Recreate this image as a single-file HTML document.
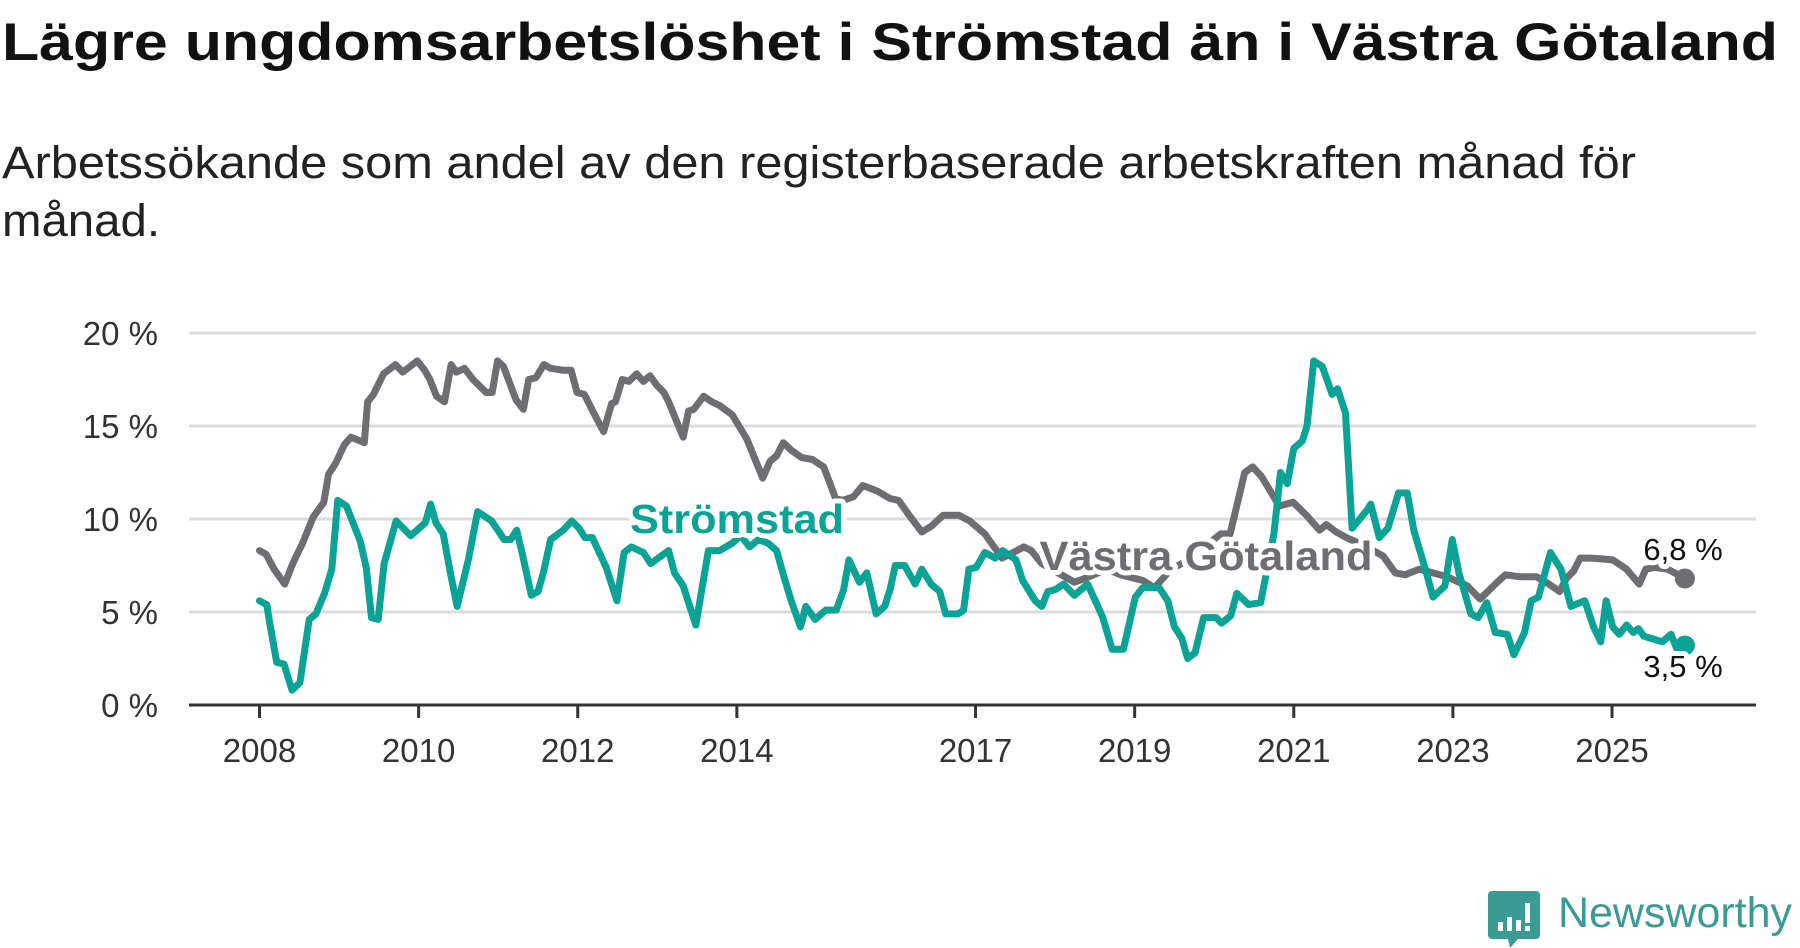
<!DOCTYPE html>
<html><head><meta charset="utf-8">
<style>
html,body{margin:0;padding:0;background:#fff;}
svg{display:block;font-family:"Liberation Sans",sans-serif;}
</style></head>
<body>
<svg id="chart" width="1800" height="948" viewBox="0 0 1800 948" xmlns="http://www.w3.org/2000/svg">
<text x="2" y="60" font-size="53" font-weight="bold" fill="#111" textLength="1776" lengthAdjust="spacingAndGlyphs">Lägre ungdomsarbetslöshet i Strömstad än i Västra Götaland</text>
<text x="2" y="178" font-size="45" fill="#222" textLength="1634" lengthAdjust="spacingAndGlyphs">Arbetssökande som andel av den registerbaserade arbetskraften månad för</text>
<text x="2" y="236" font-size="45" fill="#222" textLength="158" lengthAdjust="spacingAndGlyphs">månad.</text>
<g id="grid"></g>
<g id="xaxis"></g>
<g id="lines"></g>
<g id="labels"></g>
<g>
<path d="M1492 891 h44 a4 4 0 0 1 4 4 v40 a4 4 0 0 1 -4 4 h-18 l-8 9 l-2 -9 h-16 a4 4 0 0 1 -4 -4 v-40 a4 4 0 0 1 4 -4z" fill="#3a9a94"/>
<rect x="1498" y="922" width="5" height="9" fill="#fff"/>
<rect x="1507" y="917" width="5" height="14" fill="#fff"/>
<rect x="1516" y="920" width="5" height="11" fill="#fff"/>
<rect x="1525" y="903" width="5" height="20" fill="#fff"/>
<rect x="1525" y="926" width="5" height="5" fill="#fff"/>
<text x="1558" y="927" font-size="43" fill="#3a9a94" textLength="234" lengthAdjust="spacingAndGlyphs">Newsworthy</text>
</g>
</svg>
<script>
const grMonths=[0,1,2.2,3.8,4.9,5.4,6.5,8.1,9.7,10.4,11.5,12.8,13.8,15.8,16.3,17.2,18.7,20.5,21.6,23.8,24.9,25.7,26.7,27.9,28.9,29.7,30.9,32.2,34.2,35.1,35.9,36.8,38.7,39.8,40.6,41.7,42.9,43.9,45.7,47,47.9,49,50.4,51.9,53.1,53.7,54.7,55.7,56.9,57.9,58.9,59.9,61,61.7,63.9,64.7,65.5,67,68.2,69.4,71.3,73.5,75.9,77,78,79,80.2,81.8,83.4,85.1,86.9,88,89.6,91,93.2,95.1,96.4,98,99.9,101.3,103.1,105.5,107.1,109.4,112,113.7,115.3,116.4,118,120,122.9,124.5,127.8,129.9,133.2,135,137.5,140.1,145,146.4,148.6,149.8,151.1,152.3,153.8,155.9,157.9,159.9,160.9,162.4,163.9,166.5,169.5,171.3,172.8,174.9,177,179.1,180.9,182.2,184.1,186.4,187.9,190,192.6,194.5,196.1,197.1,198.2,199.2,201,204.1,206.2,208.1,209.1,210.4,212.4,215];
const grValues=[8.3,8.1,7.3,6.5,7.5,7.9,8.7,10.1,10.9,12.4,13.0,14.0,14.4,14.1,16.3,16.7,17.8,18.3,17.9,18.5,18.0,17.5,16.6,16.3,18.3,17.9,18.1,17.5,16.8,16.8,18.5,18.2,16.4,15.9,17.5,17.6,18.3,18.1,18.0,18.0,16.8,16.7,15.7,14.7,16.2,16.3,17.5,17.4,17.8,17.4,17.7,17.2,16.8,16.3,14.4,15.8,15.9,16.6,16.3,16.1,15.6,14.3,12.2,13.1,13.4,14.1,13.7,13.3,13.2,12.8,11.1,11.0,11.2,11.8,11.5,11.1,11.0,10.2,9.3,9.6,10.2,10.2,9.9,9.2,7.9,8.2,8.5,8.3,7.6,7.2,6.6,6.8,7.3,7.0,6.7,6.3,7.3,7.8,9.2,9.2,12.5,12.8,12.3,11.6,10.7,10.9,10.2,9.4,9.7,9.3,9.0,8.6,8.0,7.1,7.0,7.3,7.1,6.9,6.6,6.4,5.7,6.5,7.0,6.9,6.9,6.5,6.1,6.8,7.2,7.9,7.9,7.8,7.3,6.5,7.3,7.4,7.3,6.8];
const stMonths=[0,1.1,1.5,2.6,3.7,4.9,6.1,7.5,8.5,9.8,10.9,11.8,13.1,15.2,16.1,16.9,17.9,18.8,20.6,22.8,25,25.8,26.6,27.7,28.8,29.8,31.5,32.9,35,36.9,37.9,38.8,39.6,41,42,42.8,43.9,45.8,47.1,48.2,49.1,50.2,52.3,53.9,55,56.1,57.9,59,61.7,62.6,63.9,65.8,67.7,69.4,71.3,72.6,73.9,75.3,76.7,78,79.1,80.2,81.6,82.4,83.8,85.4,87,88.1,88.9,90.5,91.6,93,94.3,95.1,95.9,97.3,98.9,99.9,101.3,102.6,103.5,104.5,105.4,106.2,107,108.1,109.4,111,112.1,114.1,115.1,117,118,118.9,120,121.3,122.9,124.9,126.2,127.2,128.6,130.3,132.1,133.2,134.6,135.7,137,138,139.1,140,141.1,142.4,144.3,145.1,146.5,147.4,149.2,151,153,154,155,156,157.3,158,159,160.3,161.8,162.6,163.8,164.8,167.1,167.6,168.9,170.2,171.8,173.1,174.1,176,177,178.8,179.9,180.9,182.7,183.8,185.1,186.4,188.2,189.2,190.8,191.8,192.9,194.7,196.3,197.8,199.9,201.2,202.3,203.1,204.1,205.1,206.2,207.2,208,208.8,211.6,212.9,213.9,215];
const stValues=[5.6,5.4,4.5,2.3,2.2,0.8,1.2,4.6,4.9,6.0,7.3,11.0,10.7,8.8,7.4,4.7,4.6,7.6,9.9,9.1,9.8,10.8,9.8,9.2,7.1,5.3,7.8,10.4,9.9,8.9,8.9,9.4,8.2,5.9,6.1,7.1,8.9,9.4,9.9,9.5,9.0,9.0,7.4,5.6,8.2,8.5,8.2,7.6,8.3,7.1,6.4,4.3,8.3,8.3,8.7,9.1,8.5,8.9,8.7,8.3,6.9,5.6,4.2,5.3,4.6,5.1,5.1,6.2,7.8,6.6,7.1,4.9,5.3,6.2,7.5,7.5,6.5,7.3,6.5,6.1,4.9,4.9,4.9,5.1,7.3,7.4,8.2,7.9,8.3,7.8,6.7,5.6,5.3,6.1,6.2,6.5,5.9,6.5,5.5,4.7,3.0,3.0,5.8,6.3,6.3,6.3,5.6,4.2,3.6,2.5,2.8,4.7,4.7,4.4,4.8,6.0,5.4,5.5,9.2,12.5,11.9,13.8,14.2,15.0,18.5,18.2,16.7,17.0,15.7,9.5,10.5,10.8,9.0,9.5,11.4,11.4,9.4,7.1,5.8,6.4,8.9,7.1,4.9,4.7,5.5,3.9,3.8,2.7,3.9,5.6,5.8,8.2,7.3,5.3,5.6,4.2,3.4,5.6,4.2,3.8,4.3,3.9,4.1,3.7,3.4,3.8,2.9,3.2,3.8,3.9,3.5];
const yTicks=[0,5,10,15,20];
const yTickLabels=["0 %","5 %","10 %","15 %","20 %"];
const xTickMonths=[0,24,48,72,108,132,156,180,204];
const xTickLabels=["2008","2010","2012","2014","2017","2019","2021","2023","2025"];
const lastLabels=["6,8 %","3,5 %"];

const NS="http://www.w3.org/2000/svg";
const X0=259.5,PXM=6.63,Y0=705,PXV=18.6,LEFT=189,RIGHT=1756;
function xs(m){return X0+m*PXM;}
function ys(v){return Y0-v*PXV;}
function mk(tag,attrs,parent){const e=document.createElementNS(NS,tag);for(const k in attrs)e.setAttribute(k,attrs[k]);parent.appendChild(e);return e;}

const grid=document.getElementById('grid');
yTicks.forEach((t,i)=>{
  if(t>0){const l=mk('line',{x1:LEFT,x2:RIGHT,y1:ys(t),y2:ys(t),stroke:'#dcdcdc','stroke-width':3},grid);
  
  }
  const tx=mk('text',{x:158,y:ys(t)+12,'text-anchor':'end','font-size':33,fill:'#333'},grid);
  tx.textContent=yTickLabels[i];
  
  
});
const xa=document.getElementById('xaxis');
const axl=mk('line',{x1:LEFT,x2:RIGHT,y1:Y0,y2:Y0,stroke:'#333','stroke-width':3},xa);


xTickMonths.forEach((m,i)=>{
  const tk=mk('line',{x1:xs(m),x2:xs(m),y1:Y0,y2:Y0+13,stroke:'#333','stroke-width':3},xa);
  
  
  const tx=mk('text',{x:xs(m),y:762,'text-anchor':'middle','font-size':33,fill:'#333'},xa);
  tx.textContent=xTickLabels[i];
  
  
});
const lines=document.getElementById('lines');
function path(ms,vs){return ms.map((m,i)=>(i?'L':'M')+xs(m).toFixed(1)+' '+ys(vs[i]).toFixed(1)).join(' ');}
const gp=mk('path',{d:path(grMonths,grValues),fill:'none',stroke:'#6e6d72','stroke-width':7,'stroke-linejoin':'round','stroke-linecap':'round'},lines);


const sp=mk('path',{d:path(stMonths,stValues),fill:'none',stroke:'#0aa396','stroke-width':7,'stroke-linejoin':'round','stroke-linecap':'round'},lines);


const gl=grMonths.length-1,sl=stMonths.length-1;
const gd=mk('circle',{cx:xs(grMonths[gl]),cy:ys(grValues[gl]),r:10,fill:'#6e6d72'},lines);


const sd=mk('circle',{cx:xs(stMonths[sl]),cy:ys(stValues[sl]),r:10,fill:'#0aa396'},lines);



const lab=document.getElementById('labels');
function label(txt,x,y,size,w,color,name,anchor,len){
  const t=mk('text',{x:x,y:y,'font-size':size,'font-weight':w,fill:color,stroke:'#fff','stroke-width':10,'stroke-linejoin':'round','paint-order':'stroke','text-anchor':anchor||'start'},lab);
  if(len){t.setAttribute('textLength',len);t.setAttribute('lengthAdjust','spacingAndGlyphs');}
  t.textContent=txt;
  
  
  return t;
}
label('Strömstad',737,533,41,'bold','#0aa396','stromstad-series-label','middle',214);
label('Västra Götaland',1206,570,41,'bold','#6e6d72','vastra-gotaland-series-label','middle',333);
label(lastLabels[0],1683,560,31,'normal','#111','vastra-gotaland-last-value','middle');
label(lastLabels[1],1683,677,31,'normal','#111','stromstad-last-value','middle');
</script>
</body></html>
